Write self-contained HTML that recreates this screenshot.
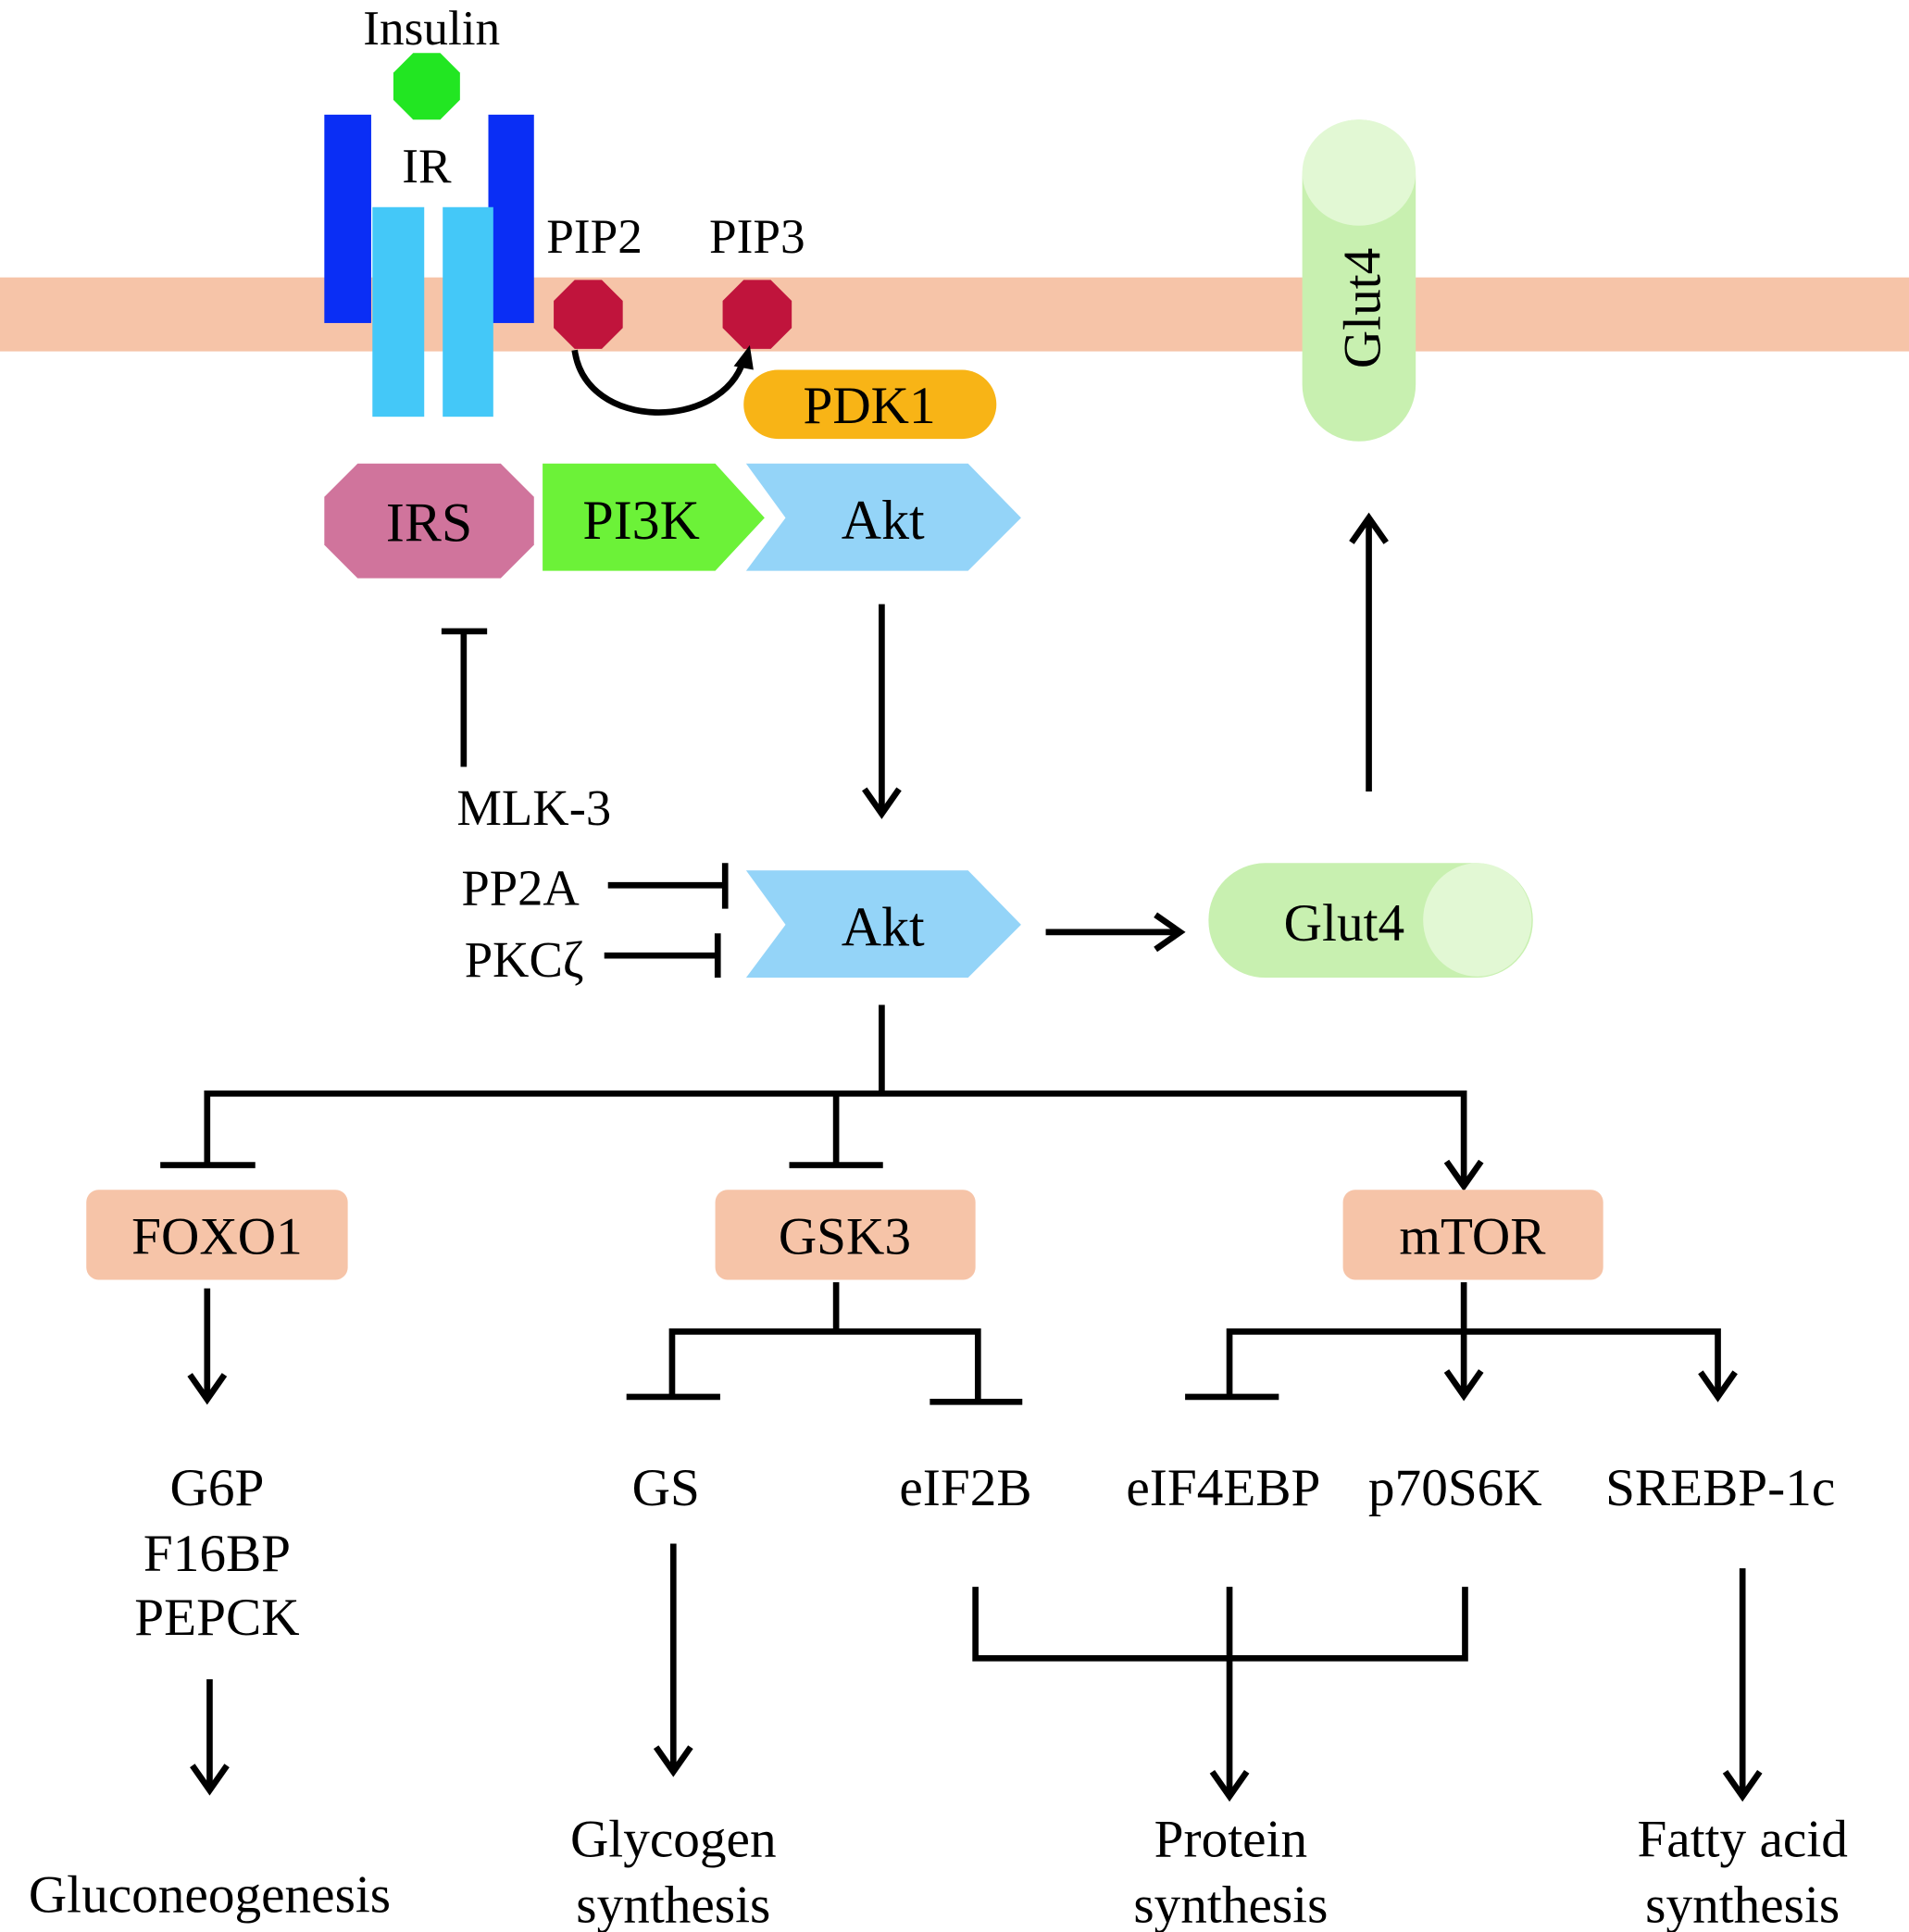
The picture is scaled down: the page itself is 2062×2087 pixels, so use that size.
<!DOCTYPE html>
<html><head><meta charset="utf-8"><style>html,body{margin:0;padding:0;background:#fff}svg{display:block}</style></head><body>
<svg width="2062" height="2087" viewBox="0 0 1548 1567" preserveAspectRatio="none" xmlns="http://www.w3.org/2000/svg" font-family="Liberation Serif, serif" text-anchor="middle">
<rect x="0" y="225" width="1548" height="60" fill="#f6c4a8"/>
<text x="350" y="36" font-size="40">Insulin</text>
<polygon points="335,43 357,43 373,59 373,81 357,97 335,97 319,81 319,59" fill="#22e622"/>
<rect x="263" y="93" width="38" height="169" fill="#0a2ef5"/>
<rect x="396" y="93" width="37" height="169" fill="#0a2ef5"/>
<rect x="302" y="168" width="42" height="170" fill="#44c8f8"/>
<rect x="359" y="168" width="41" height="170" fill="#44c8f8"/>
<text x="346" y="148" font-size="40">IR</text>
<text x="482" y="205" font-size="40">PIP2</text>
<text x="614" y="205" font-size="40">PIP3</text>
<polygon points="466,227 488,227 505,244 505,266 488,283 466,283 449,266 449,244" fill="#c0143c"/>
<polygon points="603,227 625,227 642,244 642,266 625,283 603,283 586,266 586,244" fill="#c0143c"/>
<path d="M466,284 C475,350 585,350 603,292" fill="none" stroke="#000" stroke-width="5"/>
<polygon points="608,280 595,297 611,300" fill="#000"/>
<rect x="603" y="300" width="205" height="56" rx="28" fill="#f8b416"/>
<text x="705" y="343" font-size="43">PDK1</text>
<polygon points="290,376 406,376 433,403 433,442 406,469 290,469 263,442 263,403" fill="#d0749c"/>
<text x="348" y="439" font-size="45">IRS</text>
<polygon points="440,376 580,376 620,420 580,463 440,463" fill="#6cf238"/>
<text x="520" y="437" font-size="45">PI3K</text>
<polygon points="605,376 785,376 828,420 785,463 605,463 637,420" fill="#94d4f8"/>
<text x="716" y="437" font-size="45">Akt</text>
<rect x="1056" y="97" width="92" height="261" rx="46" fill="#c8f0b0"/>
<ellipse cx="1102" cy="140" rx="46" ry="43" fill="#e2f8d4"/>
<text transform="translate(1119,250) rotate(-90)" font-size="43">Glut4</text>
<g stroke="#000" stroke-width="5" fill="none">
<line x1="1110" y1="642" x2="1110" y2="424"/>
<polyline points="1096,440 1110,420 1124,440"/>
<line x1="715" y1="490" x2="715" y2="657"/>
<polyline points="701,640 715,660 729,640"/>
<line x1="376" y1="622" x2="376" y2="512"/><line x1="358" y1="512" x2="395" y2="512"/>
<line x1="493" y1="718" x2="588" y2="718"/><line x1="588" y1="700" x2="588" y2="737"/>
<line x1="490" y1="775" x2="582" y2="775"/><line x1="582" y1="757" x2="582" y2="793"/>
<line x1="848" y1="756" x2="955" y2="756"/><polyline points="937,742 957,756 937,770"/>
<line x1="715" y1="815" x2="715" y2="887"/>
<polyline points="168,945 168,887 1187,887 1187,960"/>
<polyline points="1173,942 1187,962 1201,942"/>
<line x1="130" y1="945" x2="207" y2="945"/>
<line x1="678" y1="887" x2="678" y2="945"/><line x1="640" y1="945" x2="716" y2="945"/>
<line x1="168" y1="1045" x2="168" y2="1133"/><polyline points="154,1115 168,1135 182,1115"/>
<line x1="678" y1="1040" x2="678" y2="1080"/>
<polyline points="545,1133 545,1080 793,1080 793,1137"/>
<line x1="508" y1="1133" x2="584" y2="1133"/><line x1="754" y1="1137" x2="829" y2="1137"/>
<line x1="1187" y1="1040" x2="1187" y2="1130"/><polyline points="1173,1112 1187,1132 1201,1112"/>
<polyline points="997,1133 997,1080 1393,1080 1393,1131"/><polyline points="1379,1113 1393,1133 1407,1113"/>
<line x1="961" y1="1133" x2="1037" y2="1133"/>
<line x1="170" y1="1362" x2="170" y2="1450"/><polyline points="156,1432 170,1452 184,1432"/>
<line x1="546" y1="1252" x2="546" y2="1435"/><polyline points="532,1417 546,1437 560,1417"/>
<line x1="1413" y1="1272" x2="1413" y2="1455"/><polyline points="1399,1437 1413,1457 1427,1437"/>
<polyline points="791,1287 791,1345 1188,1345 1188,1287"/>
<line x1="997" y1="1287" x2="997" y2="1455"/><polyline points="983,1437 997,1457 1011,1437"/>
</g>
<text x="433" y="669" font-size="41">MLK-3</text>
<text x="422" y="734" font-size="41">PP2A</text>
<text x="425" y="792" font-size="41">PKCζ</text>
<polygon points="605,706 785,706 828,750 785,793 605,793 637,750" fill="#94d4f8"/>
<text x="716" y="767" font-size="45">Akt</text>
<rect x="980" y="700" width="263" height="93" rx="46" fill="#c8f0b0"/>
<ellipse cx="1198" cy="746" rx="44" ry="46" fill="#e2f8d4"/>
<text x="1090" y="763" font-size="43">Glut4</text>
<rect x="70" y="965" width="212" height="73" rx="10" fill="#f6c4a8"/>
<rect x="580" y="965" width="211" height="73" rx="10" fill="#f6c4a8"/>
<rect x="1089" y="965" width="211" height="73" rx="10" fill="#f6c4a8"/>
<g font-size="43">
<text x="176" y="1017">FOXO1</text><text x="685" y="1017">GSK3</text><text x="1194" y="1017">mTOR</text>
<text x="176" y="1221">G6P</text><text x="176" y="1274">F16BP</text><text x="176" y="1326">PEPCK</text>
<text x="540" y="1221">GS</text><text x="783" y="1221">eIF2B</text><text x="992" y="1221">eIF4EBP</text>
<text x="1180" y="1221">p70S6K</text><text x="1395" y="1221">SREBP-1c</text>
<text x="170" y="1551">Gluconeogenesis</text>
<text x="546" y="1506">Glycogen</text><text x="546" y="1559">synthesis</text>
<text x="998" y="1506">Protein</text><text x="998" y="1559">synthesis</text>
<text x="1413" y="1506">Fatty acid</text><text x="1413" y="1559">synthesis</text>
</g>
</svg>
</body></html>
